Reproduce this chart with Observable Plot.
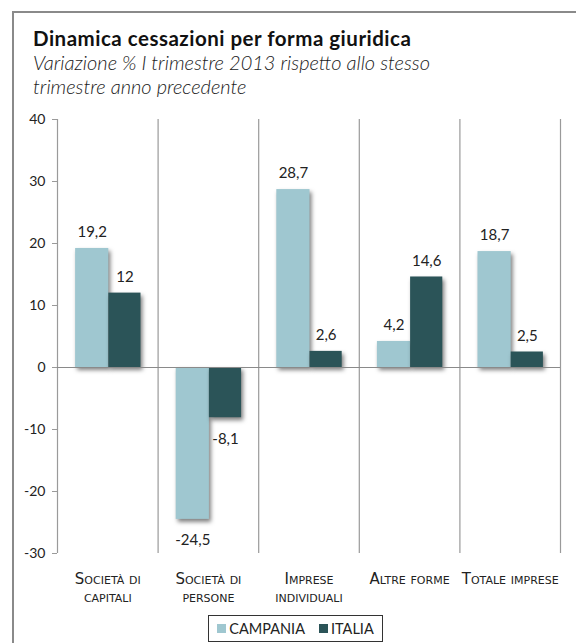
<!DOCTYPE html>
<html>
<head>
<meta charset="utf-8">
<script src="https://cdn.jsdelivr.net/npm/d3@7"></script>
<script src="https://cdn.jsdelivr.net/npm/@observablehq/plot@0.6"></script>
<style>
  html, body { margin: 0; padding: 0; background: #fff; width: 576px; height: 643px; overflow: hidden; }
  body { position: relative; font-family: "Lato", "DejaVu Sans", sans-serif; color: #111; }
  #frame { position: absolute; left: 12px; top: 11px; width: 620px; height: 700px; border: 2px solid #8a8a8a; box-sizing: border-box; }
  #title { position: absolute; left: 33px; top: 26px; font-size: 20.5px; font-weight: 700; letter-spacing: 0.5px; white-space: nowrap; }
  #subtitle { position: absolute; left: 33px; top: 50px; font-size: 20px; font-style: italic; font-weight: 300; line-height: 24px; color: #1a1a1a; white-space: nowrap; }
  #chart { position: absolute; left: 0; top: 100px; }
  #legend { position: absolute; left: 208px; top: 615px; width: 175px; height: 27px; border: 1px solid #333; box-sizing: border-box; display: flex; align-items: center; justify-content: center; gap: 14px; font-size: 14.5px; color: #222; }
  .item { display: flex; align-items: center; gap: 3px; }
  .sw { width: 9px; height: 9px; display: inline-block; }
</style>
</head>
<body>
<div id="frame"></div>
<div id="title">Dinamica cessazioni per forma giuridica</div>
<div id="subtitle">Variazione % I trimestre 2013 rispetto allo stesso<br>trimestre anno precedente</div>
<div id="chart"></div>
<div id="legend"></div>
<script>
const categories = ["Società di\ncapitali", "Società di\npersone", "Imprese\nindividuali", "Altre forme", "Totale imprese"];
const seriesNames = ["CAMPANIA", "ITALIA"];
const campania = [19.2, -24.5, 28.7, 4.2, 18.7];
const italia = [12, -8.1, 2.6, 14.6, 2.5];
const yTicks = [-30, -20, -10, 0, 10, 20, 30, 40];
const colors = ["#9fc7d0", "#2b5458"];

const rows = [];
categories.forEach((c, i) => {
  rows.push({i, cat: c, series: seriesNames[0], v: campania[i], x1: i + 0.18, x2: i + 0.51, xc: i + 0.345});
  rows.push({i, cat: c, series: seriesNames[1], v: italia[i], x1: i + 0.51, x2: i + 0.83, xc: i + 0.67});
});
const fmt = v => String(v).replace(".", ",");
const boundaries = d3.range(categories.length + 1);

const plot = Plot.plot({
  width: 576,
  height: 510,
  marginLeft: 57,
  marginRight: 16,
  marginTop: 19,
  marginBottom: 57,
  style: {fontFamily: "Lato, 'DejaVu Sans', sans-serif", color: "#222", background: "transparent"},
  x: {type: "linear", domain: [0, categories.length], axis: null},
  y: {domain: [-30, 40], axis: null},
  color: {domain: seriesNames, range: colors},
  marks: [
    Plot.ruleX(boundaries, {x: d => d, y1: -30, y2: 40, stroke: "#9a9a9a", strokeWidth: 1.2}),
    Plot.rectY(rows, {x1: "x1", x2: "x2", y1: 0, y2: "v", fill: "series"}),
    Plot.ruleY([0], {stroke: "#8a8a8a", strokeWidth: 1.2}),
    Plot.text(rows, {filter: d => d.v >= 0, x: "xc", y: "v", text: d => fmt(d.v), dy: -16, fontSize: 15, fill: "#222"}),
    Plot.text(rows, {filter: d => d.v < 0, x: "xc", y: "v", text: d => fmt(d.v), dy: 21, fontSize: 15, fill: "#222"}),
    Plot.axisY({ticks: yTicks, tickFormat: d => String(d), label: null, tickSize: 5, tickPadding: 7, fontSize: 14, stroke: "#9a9a9a", fill: "#222"}),
    Plot.axisX({ticks: categories.map((c, i) => i + 0.5), tickFormat: (d) => categories[Math.round(d - 0.5)], tickSize: 0, tickPadding: 18, fontSize: 15, fontFamily: "DejaVu Sans", fontVariant: "small-caps", lineHeight: 1.2, fill: "#222", label: null})
  ]
});
document.getElementById("chart").appendChild(plot);
d3.select(plot).selectAll("g[aria-label='rect'] rect").style("filter", "drop-shadow(2px 3px 2px rgba(0,0,0,0.5))");

const legend = d3.select("#legend");
seriesNames.forEach((s, k) => {
  const it = legend.append("span").attr("class", "item");
  it.append("span").attr("class", "sw").style("background", colors[k]);
  it.append("span").text(s);
});
</script>
</body>
</html>
